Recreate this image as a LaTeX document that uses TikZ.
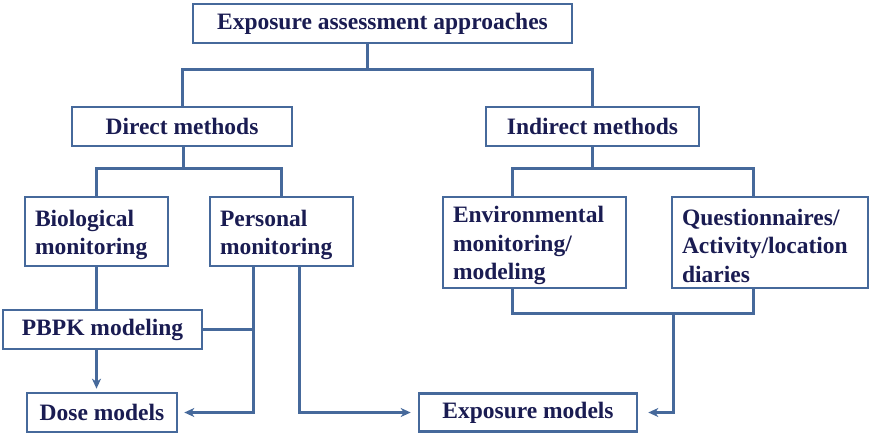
\documentclass[tikz,border=0pt]{standalone}
\usepackage{fontspec}
\setmainfont{Liberation Serif}
\usetikzlibrary{arrows.meta}
\definecolor{txt}{HTML}{1A1C52}
\definecolor{ln}{HTML}{46699B}
\begin{document}
\begin{tikzpicture}[x=1pt,y=-1pt,
  box/.style={draw=ln,line width=2.6pt,fill=white,text=txt,font=\fontsize{23.5}{28.5}\selectfont\bfseries,inner xsep=10pt,inner ysep=0pt,anchor=center},
  sbox/.style={box,align=center},
  mbox/.style={box,align=left,execute at begin node={\rule{0pt}{23pt}}},
  conn/.style={draw=ln,line width=3pt},
  arr/.style={conn,-{Stealth[length=10pt,width=9pt,inset=3pt]}}]
\useasboundingbox (0,0) rectangle (872,441);
\node[sbox,minimum width=379pt,minimum height=39pt] (top) at (382.5,23.5) {Exposure assessment approaches};
\node[sbox,minimum width=220pt,minimum height=39pt] (direct) at (182,126.5) {Direct methods};
\node[sbox,minimum width=213pt,minimum height=39pt] (indirect) at (592.5,126.5) {Indirect methods};
\node[mbox,text width=123pt,minimum height=69pt] (bio) at (96.5,231.5) {Biological\\monitoring};
\node[mbox,text width=123pt,minimum height=69pt] (pers) at (281.5,231.5) {Personal\\monitoring};
\node[mbox,text width=163pt,minimum height=91pt] (env) at (534.5,242.5) {Environmental\\monitoring/\\modeling};
\node[mbox,text width=176pt,minimum height=91pt] (quest) at (770,242.5) {Questionnaires/\\Activity/location\\diaries};
\node[sbox,minimum width=199pt,minimum height=39pt] (pbpk) at (102.5,329.5) {PBPK modeling};
\node[sbox,minimum width=150pt,minimum height=39pt] (dose) at (102,412.5) {Dose models};
\node[sbox,minimum width=218pt,minimum height=38pt] (expo) at (528,412.5) {Exposure models};
% junctions
\coordinate (j1) at (367,70);
\coordinate (j2) at (183,168);
\coordinate (j3) at (592,168);
\coordinate (pa) at (253,0);
\coordinate (pb) at (299,0);
\coordinate (ea) at (512,0);
\coordinate (qa) at (753,0);
\coordinate (j4) at (512,313);
\coordinate (j5) at (673,313);
% top level
\draw[conn] (j1 |- top.south) -- (j1);
\draw[conn] (direct.north) |- (j1) -| (indirect.north);
% direct
\draw[conn] (direct.south -| j2) -- (j2);
\draw[conn] (bio.north) |- (j2) -| (pers.north);
% indirect
\draw[conn] (indirect.south -| j3) -- (j3);
\draw[conn] (ea |- env.north) |- (j3) -| (qa |- quest.north);
% bio -> pbpk -> dose
\draw[conn] (bio.south) -- (bio.south |- pbpk.north);
\draw[arr,shorten >=3pt] (bio.south |- pbpk.south) -- (bio.south |- dose.north);
% personal -> dose
\draw[arr,shorten >=6pt] (pa |- pers.south) |- (dose.east);
\draw[conn] (pbpk.east) -- (pa |- pbpk.east);
% personal -> exposure
\draw[arr,shorten >=7pt] (pb |- pers.south) |- (expo.west);
% env/quest -> exposure
\draw[conn] (ea |- env.south) |- (j4) -| (qa |- quest.south);
\draw[arr,shorten >=10pt] (j5) |- (expo.east);
\end{tikzpicture}
\end{document}
